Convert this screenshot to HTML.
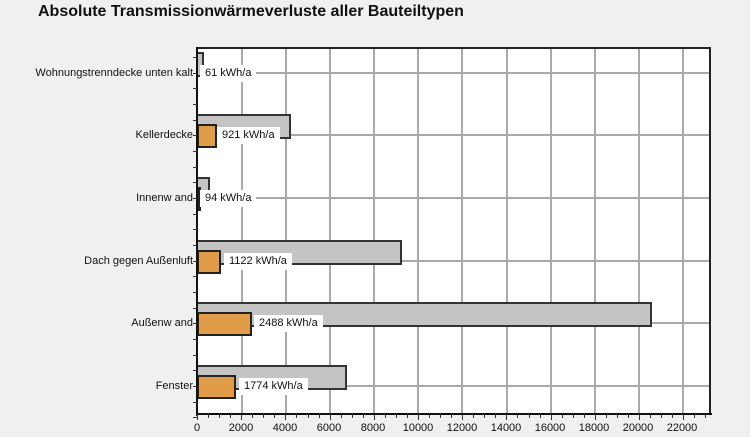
<!DOCTYPE html>
<html><head><meta charset="utf-8"><style>
body{margin:0;width:750px;height:437px;background:#f0f0f0;font-family:"Liberation Sans",sans-serif;position:relative;overflow:hidden}
.a{position:absolute}
.t{left:38px;top:3px;font-size:16px;font-weight:bold;color:#111}
.plot{left:197px;top:47px;width:514px;height:367px;background:#fff;border-top:2px solid #222;border-right:2px solid #222;box-sizing:border-box}
.vg{width:2px;background:#aaa;top:49px;height:365px}
.hg{height:2px;background:#aaa;left:197px;width:512px}
.gray{background:#c4c4c4;border:2px solid #333;border-left:none;box-sizing:border-box;height:25px}
.or{background:#e09c48;border:2px solid #222;box-sizing:border-box;height:24px}
.lb{background:#fff;font-size:11px;color:#111;height:17px;line-height:17px;padding:0 5px}
.cl{font-size:11px;color:#111;right:557px;text-align:right;white-space:nowrap}
.xl{font-size:11px;color:#111;top:422px;transform:translateX(-50%)}
.tk{width:1px;height:4px;background:#333;top:414px}
.yt{width:4px;height:1px;background:#333;left:193px}
</style></head><body>
<div class="a t">Absolute Transmissionwärmeverluste aller Bauteiltypen</div>
<div class="a plot"></div>
<div class="a vg" style="left:241px"></div><div class="a vg" style="left:285px"></div><div class="a vg" style="left:329px"></div><div class="a vg" style="left:373px"></div><div class="a vg" style="left:417px"></div><div class="a vg" style="left:461px"></div><div class="a vg" style="left:506px"></div><div class="a vg" style="left:550px"></div><div class="a vg" style="left:594px"></div><div class="a vg" style="left:638px"></div><div class="a vg" style="left:682px"></div>
<div class="a hg" style="top:72px"></div><div class="a hg" style="top:134px"></div><div class="a hg" style="top:197px"></div><div class="a hg" style="top:260px"></div><div class="a hg" style="top:322px"></div><div class="a hg" style="top:385px"></div>
<div class="a gray" style="left:197px;top:52px;width:7px"></div>
<div class="a lb" style="left:200px;top:65px">61 kWh/a</div>
<div class="a gray" style="left:197px;top:114px;width:94px"></div>
<div class="a or" style="left:197px;top:124px;width:20px"></div>
<div class="a lb" style="left:217px;top:127px">921 kWh/a</div>
<div class="a gray" style="left:197px;top:177px;width:13px"></div>
<div class="a or" style="left:197px;top:187px;width:3px"></div>
<div class="a lb" style="left:200px;top:190px">94 kWh/a</div>
<div class="a gray" style="left:197px;top:240px;width:205px"></div>
<div class="a or" style="left:197px;top:250px;width:24px"></div>
<div class="a lb" style="left:224px;top:253px">1122 kWh/a</div>
<div class="a gray" style="left:197px;top:302px;width:455px"></div>
<div class="a or" style="left:197px;top:312px;width:55px"></div>
<div class="a lb" style="left:254px;top:315px">2488 kWh/a</div>
<div class="a gray" style="left:197px;top:365px;width:150px"></div>
<div class="a or" style="left:197px;top:375px;width:39px"></div>
<div class="a lb" style="left:239px;top:378px">1774 kWh/a</div>
<div class="a" style="left:196px;top:47px;width:2px;height:369px;background:#111"></div>
<div class="a" style="left:196px;top:413px;width:516px;height:2px;background:#111"></div>
<div class="a cl" style="top:67px">Wohnungstrenndecke unten kalt</div>
<div class="a cl" style="top:129px">Kellerdecke</div>
<div class="a cl" style="top:192px">Innenw and</div>
<div class="a cl" style="top:255px">Dach gegen Außenluft</div>
<div class="a cl" style="top:317px">Außenw and</div>
<div class="a cl" style="top:380px">Fenster</div>
<div class="a xl" style="left:197px">0</div><div class="a xl" style="left:241px">2000</div><div class="a xl" style="left:285px">4000</div><div class="a xl" style="left:329px">6000</div><div class="a xl" style="left:373px">8000</div><div class="a xl" style="left:418px">10000</div><div class="a xl" style="left:462px">12000</div><div class="a xl" style="left:506px">14000</div><div class="a xl" style="left:550px">16000</div><div class="a xl" style="left:594px">18000</div><div class="a xl" style="left:638px">20000</div><div class="a xl" style="left:682px">22000</div>
<script>
for(let i=0;i<=46;i++){let d=document.createElement('div');d.className='a tk';d.style.left=(197+i*11.05)+'px';d.style.height=(i%4==0?6:4)+'px';document.body.appendChild(d);}
for(let i=0;i<=23;i++){let d=document.createElement('div');d.className='a yt';d.style.top=(57+i*15.66)+'px';document.body.appendChild(d);}
</script>
</body></html>
